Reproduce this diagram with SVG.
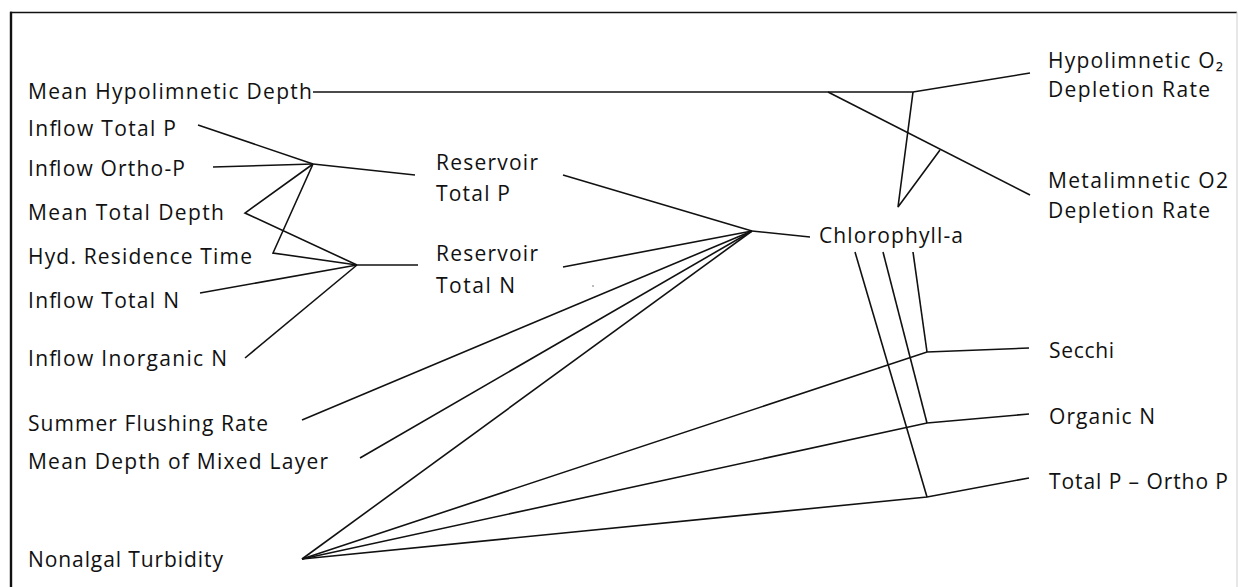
<svg xmlns="http://www.w3.org/2000/svg" width="1238" height="587" viewBox="0 0 1238 587">
<style>
text{font-family:"Open Sans","DejaVu Sans",sans-serif;font-size:21px;fill:#111}
.c{fill:none;stroke:#111;stroke-width:1.6;stroke-linejoin:miter}
</style>
<rect x="0" y="0" width="1238" height="587" fill="#fff"/>
<g id="frame">
<line x1="10" y1="12.5" x2="1237" y2="12.5" stroke="#111" stroke-width="1.6"/>
<line x1="11" y1="11.7" x2="11" y2="587" stroke="#111" stroke-width="2.4"/>
<line x1="1237" y1="12" x2="1237" y2="587" stroke="#cfcfcf" stroke-width="1"/>
</g>
<g id="connectors">
<polyline class="c" points="313,92 913,92 1030,73"/>
<polyline class="c" points="828,92 1030,195"/>
<polyline class="c" points="913,92 898,207 940,150"/>
<polyline class="c" points="198,125 313,164"/>
<polyline class="c" points="213,167 313,164"/>
<polyline class="c" points="313,164 245,213 357,265"/>
<polyline class="c" points="313,164 273,253 357,265"/>
<polyline class="c" points="200,293 357,265"/>
<polyline class="c" points="245,358 357,265"/>
<polyline class="c" points="313,164 415,175"/>
<polyline class="c" points="357,265 418,265"/>
<polyline class="c" points="563,175 752,231"/>
<polyline class="c" points="563,267 752,231"/>
<polyline class="c" points="752,231 810,237"/>
<polyline class="c" points="302,420 752,231"/>
<polyline class="c" points="360,458 752,231"/>
<polyline class="c" points="302,559 752,231"/>
<polyline class="c" points="302,559 927,352 1029,348"/>
<polyline class="c" points="302,559 927,423 1029,414"/>
<polyline class="c" points="302,559 927,497 1029,478"/>
<polyline class="c" points="913,252 927,352"/>
<polyline class="c" points="883,252 927,423"/>
<polyline class="c" points="855,252 927,497"/>
<circle cx="593" cy="286" r="0.8" fill="#666"/>
</g>
<g id="n-mean-hypolimnetic-depth"><text x="28" y="99" textLength="284" lengthAdjust="spacing">Mean Hypolimnetic Depth</text></g>
<g id="n-inflow-total-p"><text x="28" y="136" textLength="148" lengthAdjust="spacing">Inflow Total P</text></g>
<g id="n-inflow-ortho-p"><text x="28" y="176" textLength="157" lengthAdjust="spacing">Inflow Ortho-P</text></g>
<g id="n-mean-total-depth"><text x="28" y="220" textLength="196" lengthAdjust="spacing">Mean Total Depth</text></g>
<g id="n-hyd-residence-time"><text x="28" y="264" textLength="224" lengthAdjust="spacing">Hyd. Residence Time</text></g>
<g id="n-inflow-total-n"><text x="28" y="308" textLength="151" lengthAdjust="spacing">Inflow Total N</text></g>
<g id="n-inflow-inorganic-n"><text x="28" y="366" textLength="199" lengthAdjust="spacing">Inflow Inorganic N</text></g>
<g id="n-summer-flushing-rate"><text x="28" y="431" textLength="240" lengthAdjust="spacing">Summer Flushing Rate</text></g>
<g id="n-mean-depth-mixed-layer"><text x="28" y="469" textLength="300" lengthAdjust="spacing">Mean Depth of Mixed Layer</text></g>
<g id="n-nonalgal-turbidity"><text x="28" y="567" textLength="195" lengthAdjust="spacing">Nonalgal Turbidity</text></g>
<g id="n-reservoir-total-p"><text x="436" y="170" textLength="102" lengthAdjust="spacing">Reservoir</text><text x="436" y="201" textLength="74" lengthAdjust="spacing">Total P</text></g>
<g id="n-reservoir-total-n"><text x="436" y="261" textLength="102" lengthAdjust="spacing">Reservoir</text><text x="436" y="293" textLength="79" lengthAdjust="spacing">Total N</text></g>
<g id="n-chlorophyll-a"><text x="819" y="243" textLength="144" lengthAdjust="spacing">Chlorophyll-a</text></g>
<g id="n-hypolimnetic-o2"><text x="1048" y="68" textLength="175" lengthAdjust="spacing">Hypolimnetic O₂</text><text x="1048" y="97" textLength="162" lengthAdjust="spacing">Depletion Rate</text></g>
<g id="n-metalimnetic-o2"><text x="1048" y="188" textLength="180" lengthAdjust="spacing">Metalimnetic O2</text><text x="1048" y="218" textLength="162" lengthAdjust="spacing">Depletion Rate</text></g>
<g id="n-secchi"><text x="1049" y="358" textLength="65" lengthAdjust="spacing">Secchi</text></g>
<g id="n-organic-n"><text x="1049" y="424" textLength="106" lengthAdjust="spacing">Organic N</text></g>
<g id="n-total-p-ortho-p"><text x="1049" y="489" textLength="179" lengthAdjust="spacing">Total P – Ortho P</text></g>
</svg>
